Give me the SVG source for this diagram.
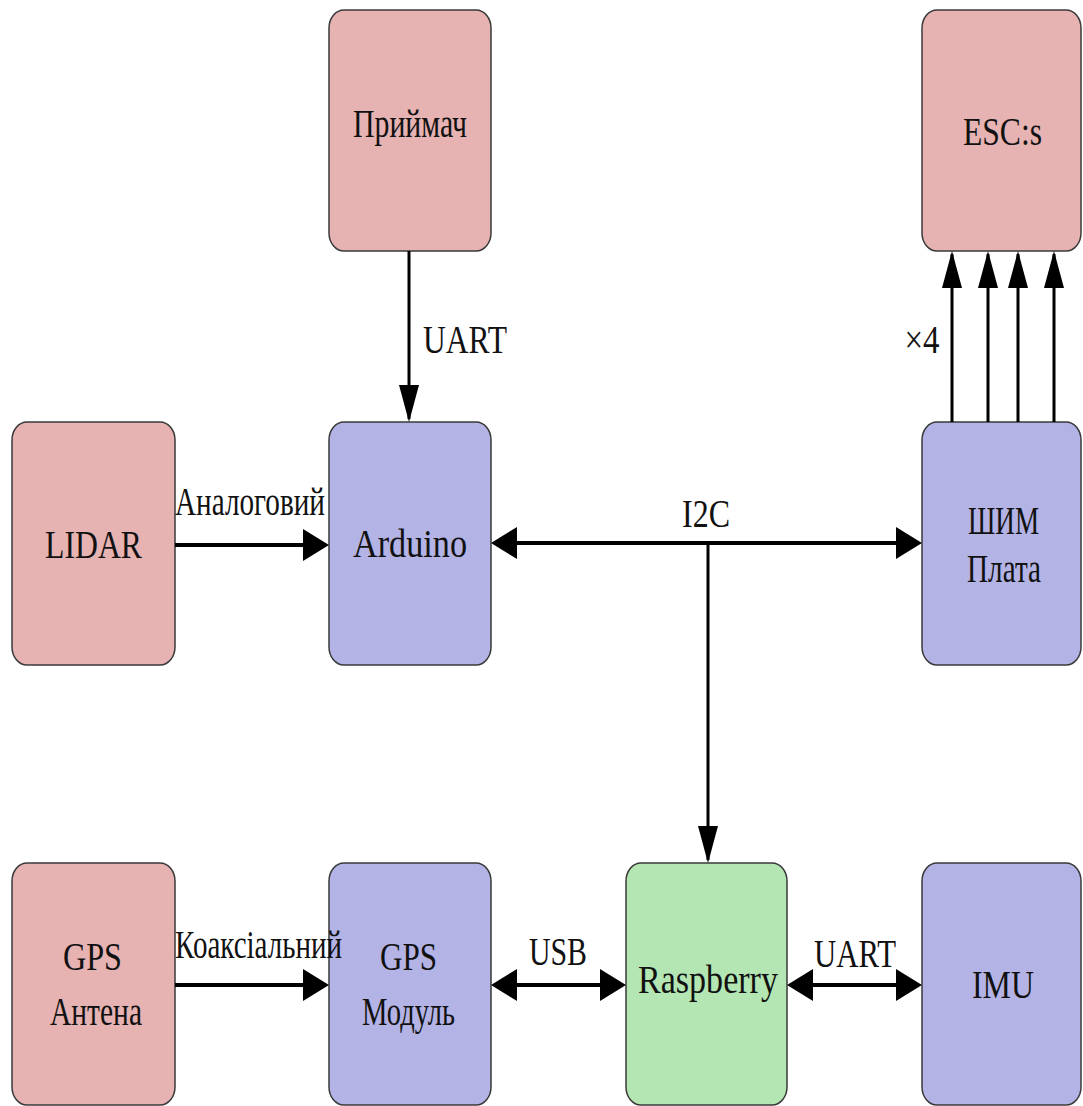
<svg xmlns="http://www.w3.org/2000/svg" width="1083" height="1106" viewBox="0 0 1083 1106">
<style>
.n rect{stroke:#3a3a3a;stroke-width:1.5}
.red rect{fill:#e6b2b2}
.blue rect{fill:#b3b3e6}
.green rect{fill:#b3e6b3}
text{font-family:"Liberation Serif","DejaVu Serif",serif;font-size:41px;fill:#111;text-anchor:middle}
text.e{font-size:41px}
.c path{fill:none;stroke:#000}
.h{stroke-width:4}
.v{stroke-width:3}
</style>
<defs>
<marker id="ah" markerUnits="userSpaceOnUse" markerWidth="26" markerHeight="32" refX="23" refY="16" orient="auto-start-reverse" viewBox="0 0 26 32">
<path d="M0,0 L26,16 L0,32 z" fill="#000"/>
</marker>
<marker id="av" markerUnits="userSpaceOnUse" markerWidth="37" markerHeight="20" refX="34" refY="10" orient="auto" viewBox="0 0 37 20">
<path d="M0,0 L37,10 L0,20 z" fill="#000"/>
</marker>
</defs>
<rect width="1083" height="1106" fill="#fff"/>
<g id="priymach" class="n red">
<rect x="329" y="10" width="162" height="241" rx="15" ry="18"/>
<text x="410" y="137" textLength="114" lengthAdjust="spacingAndGlyphs">Приймач</text>
</g>
<g id="esc" class="n red">
<rect x="922" y="10" width="159" height="241" rx="15" ry="18"/>
<text x="1002.5" y="145" textLength="79" lengthAdjust="spacingAndGlyphs">ESC:s</text>
</g>
<g id="lidar" class="n red">
<rect x="12" y="422" width="163" height="243" rx="15" ry="18"/>
<text x="93.5" y="558" textLength="97" lengthAdjust="spacingAndGlyphs">LIDAR</text>
</g>
<g id="arduino" class="n blue">
<rect x="329" y="422" width="162" height="243" rx="15" ry="18"/>
<text x="410" y="557" textLength="114" lengthAdjust="spacingAndGlyphs">Arduino</text>
</g>
<g id="shim" class="n blue">
<rect x="922" y="422" width="159" height="243" rx="15" ry="18"/>
<text x="1003.5" y="534" textLength="71" lengthAdjust="spacingAndGlyphs">ШИМ</text>
<text x="1004" y="582" textLength="74" lengthAdjust="spacingAndGlyphs">Плата</text>
</g>
<g id="gps_antenna" class="n red">
<rect x="12" y="863" width="163" height="242" rx="15" ry="18"/>
<text x="92.5" y="970" textLength="59" lengthAdjust="spacingAndGlyphs">GPS</text>
<text x="96" y="1025" textLength="92" lengthAdjust="spacingAndGlyphs">Антена</text>
</g>
<g id="gps_module" class="n blue">
<rect x="329" y="863" width="162" height="242" rx="15" ry="18"/>
<text x="408.5" y="970" textLength="57" lengthAdjust="spacingAndGlyphs">GPS</text>
<text x="408.5" y="1025" textLength="93" lengthAdjust="spacingAndGlyphs">Модуль</text>
</g>
<g id="raspberry" class="n green">
<rect x="626" y="863" width="161" height="242" rx="15" ry="18"/>
<text x="708" y="993" textLength="140" lengthAdjust="spacingAndGlyphs">Raspberry</text>
</g>
<g id="imu" class="n blue">
<rect x="922" y="863" width="159" height="242" rx="15" ry="18"/>
<text x="1003" y="998" textLength="62" lengthAdjust="spacingAndGlyphs">IMU</text>
</g>
<g id="connectors" class="c">
<path class="v" d="M409,251 L409,419" marker-end="url(#av)"/>
<path class="h" d="M175,545 L326,545" marker-end="url(#ah)"/>
<path class="h" d="M494,543 L919,543" marker-start="url(#ah)" marker-end="url(#ah)"/>
<path class="v" d="M708,543 L708,860" marker-end="url(#av)"/>
<path class="v" d="M952,422 L952,254" marker-end="url(#av)"/>
<path class="v" d="M988,422 L988,254" marker-end="url(#av)"/>
<path class="v" d="M1018,422 L1018,254" marker-end="url(#av)"/>
<path class="v" d="M1054,422 L1054,254" marker-end="url(#av)"/>
<path class="h" d="M175,985 L326,985" marker-end="url(#ah)"/>
<path class="h" d="M494,985 L623,985" marker-start="url(#ah)" marker-end="url(#ah)"/>
<path class="h" d="M790,985 L919,985" marker-start="url(#ah)" marker-end="url(#ah)"/>
<text class="e" x="465" y="353" textLength="84" lengthAdjust="spacingAndGlyphs">UART</text>
<text class="e" x="922" y="353" textLength="35" lengthAdjust="spacingAndGlyphs">×4</text>
<text class="e" x="250" y="515" textLength="150" lengthAdjust="spacingAndGlyphs">Аналоговий</text>
<text class="e" x="706" y="527" textLength="48" lengthAdjust="spacingAndGlyphs">I2C</text>
<text class="e" transform="translate(258.5,958) scale(0.72,1)" x="0" y="0" textLength="232" lengthAdjust="spacingAndGlyphs">Коаксіальний</text>
<text class="e" x="558" y="965" textLength="58" lengthAdjust="spacingAndGlyphs">USB</text>
<text class="e" x="855" y="967" textLength="82" lengthAdjust="spacingAndGlyphs">UART</text>
</g>
</svg>
